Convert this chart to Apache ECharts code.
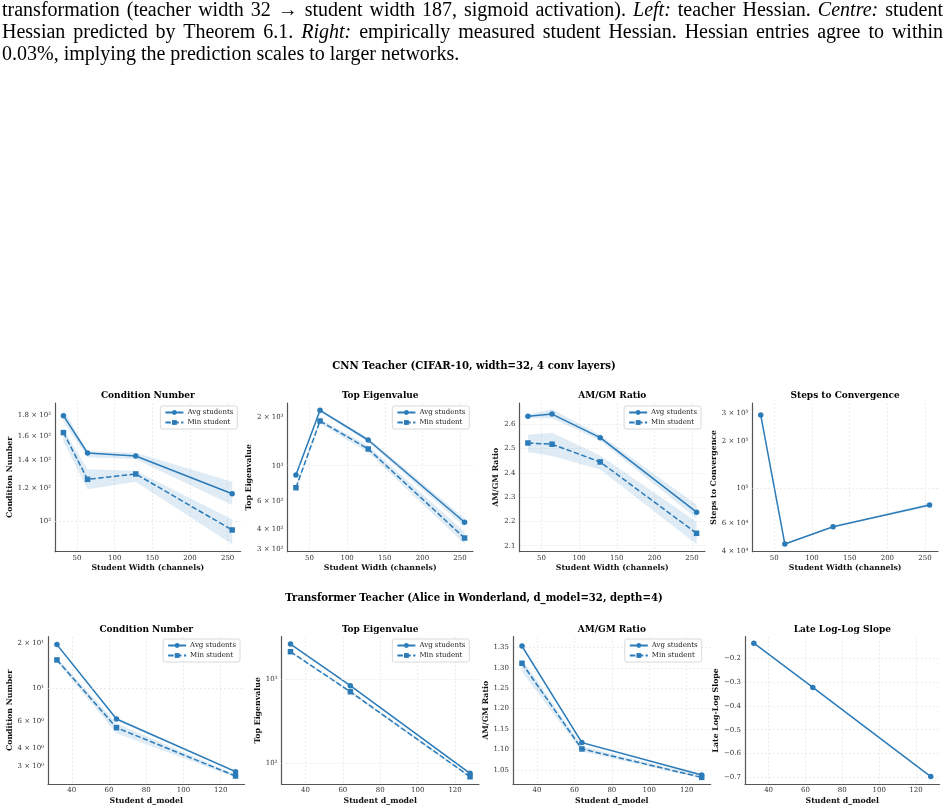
<!DOCTYPE html>
<html>
<head>
<meta charset="utf-8">
<script src="https://cdn.jsdelivr.net/npm/echarts@6/dist/echarts.min.js"></script>
<style>
html, body { margin: 0; padding: 0; background: #fff; }
#chart { position: absolute; left: 0; top: 0; width: 949px; height: 812px; }
#caption { position: absolute; left: 2px; top: -2px; width: 941px; font-family: "Liberation Serif", serif; font-size: 20px; line-height: 22px; color: #000; }
#caption div { text-align: justify; text-align-last: justify; white-space: nowrap; }
#caption div.last { text-align-last: left; }
</style>
</head>
<body>
<div id="chart"></div>
<div id="caption">
  <div>transformation (teacher width 32 &rarr; student width 187, sigmoid activation). <i>Left:</i> teacher Hessian. <i>Centre:</i> student</div>
  <div>Hessian predicted by Theorem 6.1. <i>Right:</i> empirically measured student Hessian. Hessian entries agree to within</div>
  <div class="last">0.03%, implying the prediction scales to larger networks.</div>
</div>
<script>
// ---- CNN teacher data ----
var cnnWidths = [32, 64, 128, 256];
var cnnXTicks = [50, 100, 150, 200, 250];

var cnnCondAvg = [179.3, 145.7, 143.3, 116.2];
var cnnCondAvgLo = [173.4, 142.3, 140.7, 109.1];
var cnnCondAvgHi = [185.1, 147.4, 146.0, 124.2];
var cnnCondMin = [163.2, 125.9, 129.7, 95.0];
var cnnCondMinLo = [155.2, 119.1, 124.2, 87.8];
var cnnCondMinHi = [166.2, 133.1, 132.1, 100.8];
var cnnCondTicks = [100, 120, 140, 160, 180];
var cnnCondLabels = ['10²', '1.2 × 10²', '1.4 × 10²', '1.6 × 10²', '1.8 × 10²'];
var cnnCondMajor = [100];

var cnnEigAvg = [874, 2225, 1449, 442];
var cnnEigAvgLo = [850, 2180, 1410, 415];
var cnnEigAvgHi = [900, 2270, 1490, 468];
var cnnEigMin = [728, 1907, 1273, 352];
var cnnEigMinLo = [705, 1839, 1212, 323];
var cnnEigMinHi = [750, 1961, 1335, 386];
var cnnEigTicks = [300, 400, 600, 1000, 2000];
var cnnEigLabels = ['3 × 10²', '4 × 10²', '6 × 10²', '10³', '2 × 10³'];
var cnnEigMajor = [1000];

var cnnAmgmAvg = [2.633, 2.642, 2.545, 2.238];
var cnnAmgmAvgLo = [2.625, 2.625, 2.533, 2.212];
var cnnAmgmAvgHi = [2.640, 2.662, 2.556, 2.269];
var cnnAmgmMin = [2.523, 2.518, 2.445, 2.151];
var cnnAmgmMinLo = [2.486, 2.469, 2.414, 2.106];
var cnnAmgmMinHi = [2.557, 2.565, 2.472, 2.199];
var cnnAmgmTicks = [2.1, 2.2, 2.3, 2.4, 2.5, 2.6];
var cnnAmgmLabels = ['2.1', '2.2', '2.3', '2.4', '2.5', '2.6'];

var cnnSteps = [291000, 44400, 57150, 78400];
var cnnStepsLo = [287000, 43900, 56500, 76800];
var cnnStepsHi = [295000, 44900, 57800, 80000];
var cnnStepsTicks = [40000, 60000, 100000, 200000, 300000];
var cnnStepsLabels = ['4 × 10⁴', '6 × 10⁴', '10⁵', '2 × 10⁵', '3 × 10⁵'];
var cnnStepsMajor = [100000];

// ---- Transformer teacher data ----
var tfDims = [32, 64, 128];
var tfXTicks = [40, 60, 80, 100, 120];

var tfCondAvg = [19.57, 6.23, 2.77];
var tfCondAvgLo = [19.2, 6.1, 2.72];
var tfCondAvgHi = [19.9, 6.35, 2.82];
var tfCondMin = [15.46, 5.45, 2.59];
var tfCondMinLo = [15.0, 5.0, 2.53];
var tfCondMinHi = [16.0, 5.83, 2.65];
var tfCondTicks = [3, 4, 6, 10, 20];
var tfCondLabels = ['3 × 10⁰', '4 × 10⁰', '6 × 10⁰', '10¹', '2 × 10¹'];
var tfCondMajor = [10];

var tfEigAvg = [2601, 833, 76.1];
var tfEigAvgLo = [2560, 815, 74.5];
var tfEigAvgHi = [2640, 850, 77.5];
var tfEigMin = [2109, 706, 69.3];
var tfEigMinLo = [2070, 680, 67.5];
var tfEigMinHi = [2150, 735, 71.0];
var tfEigTicks = [100, 1000];
var tfEigLabels = ['10²', '10³'];
var tfEigMajor = [100, 1000];

var tfAmgmAvg = [1.353, 1.117, 1.038];
var tfAmgmAvgLo = [1.348, 1.114, 1.036];
var tfAmgmAvgHi = [1.358, 1.120, 1.040];
var tfAmgmMin = [1.311, 1.1015, 1.032];
var tfAmgmMinLo = [1.290, 1.095, 1.029];
var tfAmgmMinHi = [1.322, 1.108, 1.036];
var tfAmgmTicks = [1.05, 1.10, 1.15, 1.20, 1.25, 1.30, 1.35];
var tfAmgmLabels = ['1.05', '1.10', '1.15', '1.20', '1.25', '1.30', '1.35'];

var tfSlope = [-0.136, -0.322, -0.697];
var tfSlopeTicks = [-0.7, -0.6, -0.5, -0.4, -0.3, -0.2];
var tfSlopeLabels = ['\u22120.7', '\u22120.6', '\u22120.5', '\u22120.4', '\u22120.3', '\u22120.2'];

// ---- styling ----
var FONT = 'DejaVu Serif';
var BLUE = '#2b7bb9';
var BAND = 'rgba(43,123,185,0.15)';
var SPINE = '#555';
var GRIDLINE = { color: '#e3e3e3', width: 0.7, type: [2, 2] };

var chart = echarts.init(document.getElementById('chart'));

var grids = [], xAxes = [], yAxes = [], series = [], legends = [], graphics = [];

function tf(v, log) { return log ? Math.log10(v) : v; }

function labelFmt(ticks, labels, log) {
    return function (v) {
        var best = 0, bd = Infinity;
        ticks.forEach(function (t, i) {
            var d = Math.abs(tf(t, log) - v);
            if (d < bd) { bd = d; best = i; }
        });
        return labels[best];
    };
}

function bandSeries(k, xs, lo, hi, log) {
    var data = xs.map(function (x, i) { return [x, tf(lo[i], log), tf(hi[i], log)]; });
    return {
        type: 'custom', xAxisIndex: k, yAxisIndex: k, z: 1, silent: true,
        data: data,
        encode: { x: 0, y: [1, 2] },
        renderItem: function (params, api) {
            if (params.dataIndexInside !== 0) return { type: 'group', children: [] };
            var n = params.dataInsideLength, top = [], bot = [];
            for (var j = 0; j < n; j++) {
                bot.push(api.coord([api.value(0, j), api.value(1, j)]));
                top.unshift(api.coord([api.value(0, j), api.value(2, j)]));
            }
            return { type: 'polygon', shape: { points: bot.concat(top) }, style: { fill: BAND } };
        }
    };
}

function lineSeries(k, name, xs, ys, log, dashed, sym) {
    return {
        type: 'line', name: name, xAxisIndex: k, yAxisIndex: k, z: 3,
        data: xs.map(function (x, i) { return [x, tf(ys[i], log)]; }),
        symbol: sym, symbolSize: 5.5, showSymbol: true,
        lineStyle: { color: BLUE, width: 1.5, type: dashed ? [5.5, 2.4] : 'solid' },
        itemStyle: { color: BLUE },
        emphasis: { disabled: true },
        animation: false
    };
}

// major log gridlines drawn as a markLine on an empty helper series
function gridSeries(k, vals) {
    return {
        type: 'line', xAxisIndex: k, yAxisIndex: k, z: 0, silent: true, data: [],
        markLine: {
            silent: true, symbol: 'none', animation: false,
            label: { show: false },
            lineStyle: GRIDLINE,
            emphasis: { disabled: true },
            data: vals.map(function (v) { return { yAxis: v }; })
        }
    };
}

function addPanel(p) {
    var k = grids.length;
    grids.push({ left: p.box[0], top: p.box[1], width: p.box[2], height: p.box[3], outerBoundsMode: 'none' });
    xAxes.push({
        type: 'value', gridIndex: k, min: p.xr[0], max: p.xr[1],
        name: p.xName, nameLocation: 'middle', nameGap: p.xGap,
        nameTextStyle: { fontFamily: FONT, fontWeight: 'bold', fontSize: 7.8, color: '#111' },
        axisLine: { onZero: false, lineStyle: { color: SPINE, width: 1.2 } },
        axisTick: { show: false, customValues: p.xTicks },
        axisLabel: { customValues: p.xTicks, margin: 2.5, fontFamily: FONT, fontSize: 7, color: '#333' },
        splitLine: { show: true, lineStyle: GRIDLINE }
    });
    var yTickVals = p.yTicks.map(function (t) { return tf(t, p.log); });
    yAxes.push({
        type: 'value', gridIndex: k, min: tf(p.yr[0], p.log), max: tf(p.yr[1], p.log),
        name: p.yName, nameLocation: 'middle', nameGap: p.yGap,
        nameTextStyle: { fontFamily: FONT, fontWeight: 'bold', fontSize: 7.8, color: '#111' },
        axisLine: { show: true, onZero: false, lineStyle: { color: SPINE, width: 1.2 } },
        axisTick: { show: false, customValues: yTickVals },
        axisLabel: { customValues: yTickVals, margin: 4, fontFamily: FONT, fontSize: 7, color: '#333',
            formatter: labelFmt(p.yTicks, p.yLabels, p.log) },
        splitLine: { show: !p.log, lineStyle: GRIDLINE }
    });
    if (p.log) {
        series.push(gridSeries(k, p.yMajor.map(function (t) { return tf(t, true); })));
    }
    graphics.push({
        type: 'text', x: p.box[0] + p.box[2] / 2, y: p.titleY, silent: true,
        style: { text: p.title, align: 'center', verticalAlign: 'middle', fontFamily: FONT, fontWeight: 'bold', fontSize: 9, fill: '#000' }
    });
    p.bands.forEach(function (b) { series.push(bandSeries(k, p.xs, b[0], b[1], p.log)); });
    p.lines.forEach(function (l) { series.push(lineSeries(k, l[0], p.xs, l[1], p.log, l[2], l[3])); });
    if (p.legend) {
        legends.push({
            data: ['Avg students', 'Min student'], orient: 'vertical',
            right: p.legend[0], top: p.legend[1],
            itemWidth: 18, itemHeight: 6, itemGap: 3, padding: [3, 4, 3, 4],
            backgroundColor: '#fff', borderColor: '#cfcfcf', borderWidth: 0.8, borderRadius: 2,
            selectedMode: false,
            textStyle: { fontFamily: FONT, fontSize: 7, color: '#222', padding: [0, 0, 0, -1] }
        });
    }
}

var ROW1 = 403, H1 = 148.7, ROW2 = 636.7, H2 = 147.3;

addPanel({ box: [55, ROW1, 185.6, H1], xr: [20.8, 267.2], yr: [84.2, 192.4], log: true,
    xs: cnnWidths, xTicks: cnnXTicks, yTicks: cnnCondTicks, yLabels: cnnCondLabels, yMajor: cnnCondMajor,
    title: 'Condition Number', titleY: 396, xName: 'Student Width (channels)', xGap: 12.5,
    yName: 'Condition Number', yGap: 38,
    bands: [[cnnCondAvgLo, cnnCondAvgHi], [cnnCondMinLo, cnnCondMinHi]],
    lines: [['Avg students', cnnCondAvg, false, 'circle'], ['Min student', cnnCondMin, true, 'rect']],
    legend: [711.7, 406] });

addPanel({ box: [287.5, ROW1, 185.5, H1], xr: [20.8, 267.2], yr: [289, 2472], log: true,
    xs: cnnWidths, xTicks: cnnXTicks, yTicks: cnnEigTicks, yLabels: cnnEigLabels, yMajor: cnnEigMajor,
    title: 'Top Eigenvalue', titleY: 396, xName: 'Student Width (channels)', xGap: 12.5,
    yName: 'Top Eigenvalue', yGap: 30.5,
    bands: [[cnnEigAvgLo, cnnEigAvgHi], [cnnEigMinLo, cnnEigMinHi]],
    lines: [['Avg students', cnnEigAvg, false, 'circle'], ['Min student', cnnEigMin, true, 'rect']],
    legend: [479.7, 406] });

addPanel({ box: [519.5, ROW1, 185.5, H1], xr: [20.8, 267.2], yr: [2.0753, 2.6877], log: false,
    xs: cnnWidths, xTicks: cnnXTicks, yTicks: cnnAmgmTicks, yLabels: cnnAmgmLabels,
    title: 'AM/GM Ratio', titleY: 396, xName: 'Student Width (channels)', xGap: 12.5,
    yName: 'AM/GM Ratio', yGap: 17.5,
    bands: [[cnnAmgmAvgLo, cnnAmgmAvgHi], [cnnAmgmMinLo, cnnAmgmMinHi]],
    lines: [['Avg students', cnnAmgmAvg, false, 'circle'], ['Min student', cnnAmgmMin, true, 'rect']],
    legend: [248, 406] });

addPanel({ box: [752.3, ROW1, 185.7, H1], xr: [20.8, 267.2], yr: [39700, 346700], log: true,
    xs: cnnWidths, xTicks: cnnXTicks, yTicks: cnnStepsTicks, yLabels: cnnStepsLabels, yMajor: cnnStepsMajor,
    title: 'Steps to Convergence', titleY: 396, xName: 'Student Width (channels)', xGap: 12.5,
    yName: 'Steps to Convergence', yGap: 31.5,
    bands: [[cnnStepsLo, cnnStepsHi]],
    lines: [['Steps', cnnSteps, false, 'circle']] });

addPanel({ box: [48, ROW2, 196.5, H2], xr: [27.2, 132.8], yr: [2.29, 22.1], log: true,
    xs: tfDims, xTicks: tfXTicks, yTicks: tfCondTicks, yLabels: tfCondLabels, yMajor: tfCondMajor,
    title: 'Condition Number', titleY: 629.3, xName: 'Student d_model', xGap: 13,
    yName: 'Condition Number', yGap: 31,
    bands: [[tfCondAvgLo, tfCondAvgHi], [tfCondMinLo, tfCondMinHi]],
    lines: [['Avg students', tfCondAvg, false, 'circle'], ['Min student', tfCondMin, true, 'rect']],
    legend: [709, 639] });

addPanel({ box: [281.5, ROW2, 197.5, H2], xr: [27.2, 132.8], yr: [56.8, 3177], log: true,
    xs: tfDims, xTicks: tfXTicks, yTicks: tfEigTicks, yLabels: tfEigLabels, yMajor: tfEigMajor,
    title: 'Top Eigenvalue', titleY: 629.3, xName: 'Student d_model', xGap: 13,
    yName: 'Top Eigenvalue', yGap: 19.5,
    bands: [[tfEigAvgLo, tfEigAvgHi], [tfEigMinLo, tfEigMinHi]],
    lines: [['Avg students', tfEigAvg, false, 'circle'], ['Min student', tfEigMin, true, 'rect']],
    legend: [479.7, 639] });

addPanel({ box: [513, ROW2, 197.7, H2], xr: [27.2, 132.8], yr: [1.0158, 1.376], log: false,
    xs: tfDims, xTicks: tfXTicks, yTicks: tfAmgmTicks, yLabels: tfAmgmLabels,
    title: 'AM/GM Ratio', titleY: 629.3, xName: 'Student d_model', xGap: 13,
    yName: 'AM/GM Ratio', yGap: 22.5,
    bands: [[tfAmgmAvgLo, tfAmgmAvgHi], [tfAmgmMinLo, tfAmgmMinHi]],
    lines: [['Avg students', tfAmgmAvg, false, 'circle'], ['Min student', tfAmgmMin, true, 'rect']],
    legend: [247.3, 639] });

addPanel({ box: [745, ROW2, 194.6, H2], xr: [27.2, 132.8], yr: [-0.728, -0.109], log: false,
    xs: tfDims, xTicks: tfXTicks, yTicks: tfSlopeTicks, yLabels: tfSlopeLabels,
    title: 'Late Log-Log Slope', titleY: 629.3, xName: 'Student d_model', xGap: 13,
    yName: 'Late Log-Log Slope', yGap: 24.5,
    bands: [],
    lines: [['Slope', tfSlope, false, 'circle']] });

graphics.push({
    type: 'text', x: 474, y: 366, silent: true,
    style: { text: 'CNN Teacher (CIFAR-10, width=32, 4 conv layers)', align: 'center', verticalAlign: 'middle', fontFamily: FONT, fontWeight: 'bold', fontSize: 10.1, fill: '#000' }
});
graphics.push({
    type: 'text', x: 474, y: 598, silent: true,
    style: { text: 'Transformer Teacher (Alice in Wonderland, d_model=32, depth=4)', align: 'center', verticalAlign: 'middle', fontFamily: FONT, fontWeight: 'bold', fontSize: 10.1, fill: '#000' }
});

chart.setOption({
    animation: false,
    backgroundColor: 'transparent',
    textStyle: { fontFamily: FONT },
    grid: grids,
    xAxis: xAxes,
    yAxis: yAxes,
    legend: legends,
    graphic: graphics,
    series: series
});
</script>
</body>
</html>
